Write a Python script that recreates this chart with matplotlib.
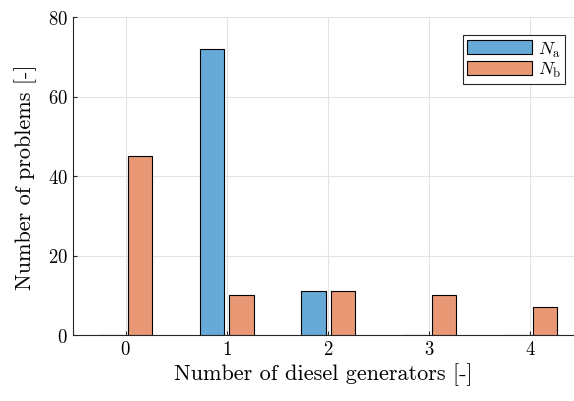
import numpy as np
import matplotlib.pyplot as plt

plt.rcParams['font.family'] = 'cmr10'
plt.rcParams['mathtext.fontset'] = 'cm'
plt.rcParams['axes.formatter.use_mathtext'] = True

# problem counts per number of diesel generators
generators = [0, 1, 2, 3, 4]
n_a = [0, 72, 11, 0, 0]
n_b = [45, 10, 11, 10, 7]

blue = (0.40, 0.667, 0.845)
orange = (0.91, 0.595, 0.459)

fig = plt.figure(figsize=(5.74, 4.02), dpi=100)
ax = fig.add_axes([73 / 574, 1 - 336 / 402, 501 / 574, 318 / 402])

x = np.array(generators)
w = 0.24
ax.bar(x - 0.145, n_a, w, color=blue, edgecolor='black', linewidth=0.8,
       label=r'$N_\mathrm{a}$', zorder=3)
ax.bar(x + 0.145, n_b, w, color=orange, edgecolor='black', linewidth=0.8,
       label=r'$N_\mathrm{b}$', zorder=3)

ax.set_xlim(-0.52, 4.43)
ax.set_ylim(0, 80)
ax.set_xticks(generators)
ax.set_yticks([0, 20, 40, 60, 80])
ax.grid(True, color='#e3e3e3', linewidth=0.8, zorder=0)
ax.tick_params(direction='in', length=3, labelsize=13.5, color='#262626')
ax.spines['top'].set_visible(False)
ax.spines['right'].set_visible(False)
for s in ('left', 'bottom'):
    ax.spines[s].set_color('#262626')
    ax.spines[s].set_linewidth(0.8)

ax.set_xlabel('Number of diesel generators [-]', fontsize=16, labelpad=3)
ax.set_ylabel('Number of problems [-]', fontsize=16, labelpad=8)

leg = ax.legend(loc='upper right', bbox_to_anchor=(0.99, 0.955), fontsize=13,
                fancybox=False, edgecolor='#262626', framealpha=1,
                handlelength=3.6, handleheight=0.85, borderpad=0.25,
                labelspacing=0.1, handletextpad=0.3, borderaxespad=0.2)
leg.get_frame().set_linewidth(0.8)

fig.savefig('out.png', dpi=100)
